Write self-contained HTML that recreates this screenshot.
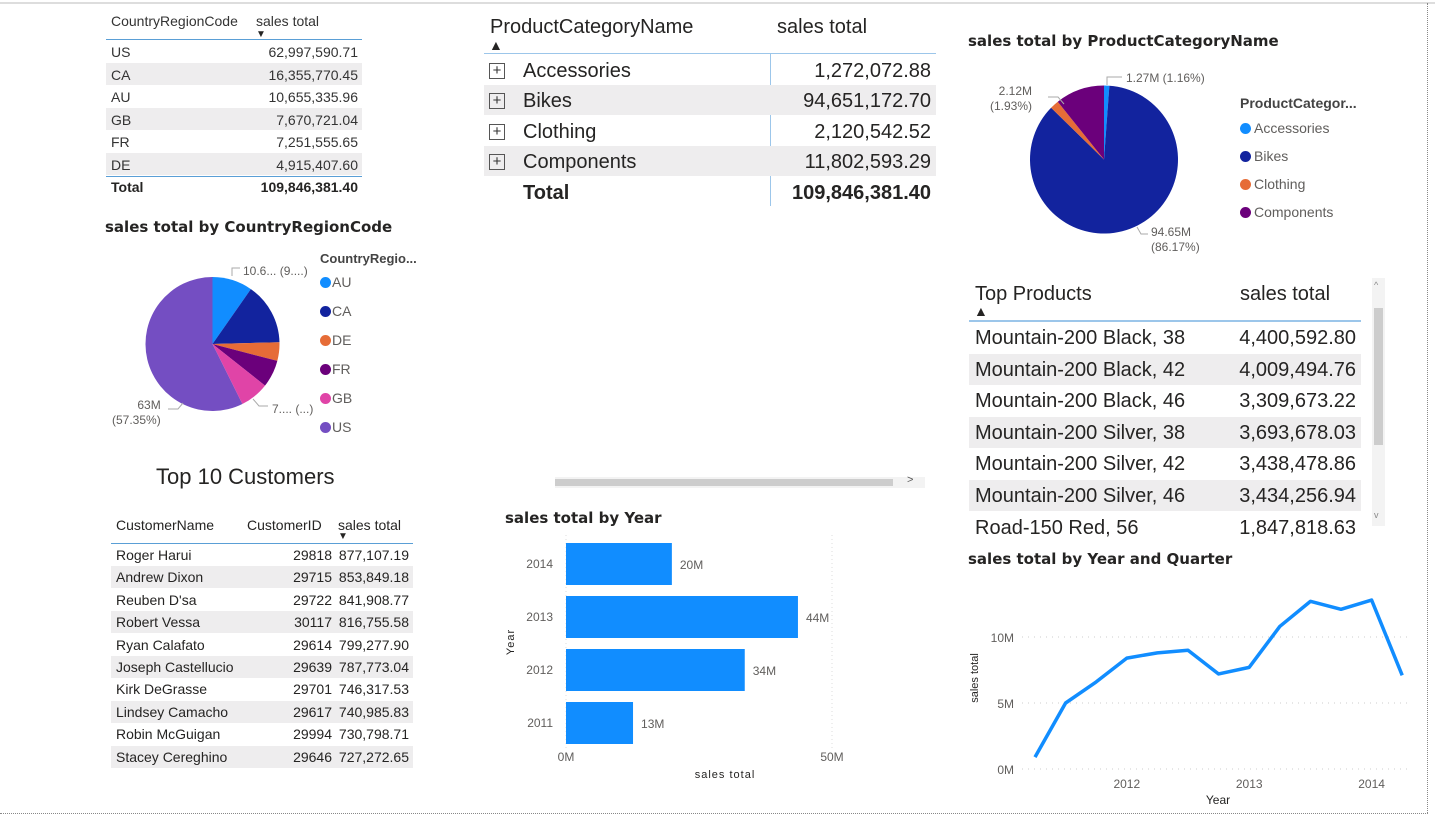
<!DOCTYPE html>
<html><head><meta charset="utf-8">
<style>
body{margin:0;width:1435px;height:818px;overflow:hidden;background:#fff;font-family:"Liberation Sans","DejaVu Sans",sans-serif;color:#252423;position:relative}
.a{position:absolute;white-space:nowrap}
.r{text-align:right}
.t{font-family:"DejaVu Sans","Liberation Sans",sans-serif;font-weight:bold;font-size:15px;color:#252423}
.sm{font-size:12px;color:#605e5c}
.dot{display:inline-block;width:11px;height:11px;border-radius:50%;vertical-align:-1px;margin-right:3px}
svg{position:absolute;left:0;top:0}
</style></head><body>
<div class="a" style="left:0;top:2px;width:1435px;height:2px;background:#ddd"></div>
<div class="a" style="left:1427px;top:3px;width:0;height:810px;border-left:1px dotted #888"></div>
<div class="a" style="left:0;top:813px;width:1428px;height:0;border-top:1px dotted #888"></div>

<div class="a" style="left:106px;top:10px;width:256px;height:190px;font-size:14px">
  <div class="a" style="left:5px;top:3px;color:#333">CountryRegionCode</div>
  <div class="a" style="left:150px;top:3px;color:#333">sales total</div>
  <div class="a" style="left:150px;top:19px;font-size:10px">▼</div>
  <div class="a" style="left:0;top:29px;width:256px;height:1px;background:#5a9fd6"></div>
  <div id="ctab"></div>
  <div class="a" style="left:0;top:166px;width:256px;height:1px;background:#5a9fd6"></div>
  <div class="a" style="left:5px;top:169px;font-weight:bold">Total</div>
  <div class="a r" style="right:4px;top:169px;font-weight:bold">109,846,381.40</div>
</div>

<div class="a" style="left:484px;top:10px;width:452px;height:200px;font-size:20px">
  <div class="a" style="left:6px;top:6px">ProductCategoryName</div>
  <div class="a" style="left:293px;top:6px">sales total</div>
  <div class="a" style="left:5px;top:27px;font-size:14px">▲</div>
  <div class="a" style="left:0;top:43px;width:452px;height:1px;background:#9cc6ea"></div>
  <div class="a" style="left:286px;top:44px;width:1px;height:152px;background:#9cc6ea"></div>
  <div id="ptab"></div>
  <div class="a" style="left:39px;top:172px;font-weight:bold">Total</div>
  <div class="a r" style="right:5px;top:172px;font-weight:bold">109,846,381.40</div>
</div>

<div class="a t" style="left:968px;top:32px">sales total by ProductCategoryName</div>
<div class="a" style="left:1240px;top:95px;font-size:14px;color:#605e5c">
  <div style="font-weight:bold;color:#444;height:25px">ProductCategor...</div>
  <div style="height:28px"><span class="dot" style="background:#118DFF"></span>Accessories</div>
  <div style="height:28px"><span class="dot" style="background:#12239E"></span>Bikes</div>
  <div style="height:28px"><span class="dot" style="background:#E66C37"></span>Clothing</div>
  <div style="height:28px"><span class="dot" style="background:#6B007B"></span>Components</div>
</div>
<div class="a sm" style="left:1126px;top:71px">1.27M (1.16%)</div>
<div class="a sm r" style="left:990px;top:84px;line-height:15px">2.12M<br>(1.93%)</div>
<div class="a sm" style="left:1151px;top:225px;line-height:15px">94.65M<br>(86.17%)</div>

<div class="a t" style="left:105px;top:218px">sales total by CountryRegionCode</div>
<div class="a" style="left:320px;top:251px;font-size:14px;color:#605e5c">
  <div style="font-weight:bold;color:#444;font-size:13px;height:23px">CountryRegio...</div>
  <div style="height:29px"><span class="dot" style="background:#118DFF;margin-right:1px"></span>AU</div>
  <div style="height:29px"><span class="dot" style="background:#12239E;margin-right:1px"></span>CA</div>
  <div style="height:29px"><span class="dot" style="background:#E66C37;margin-right:1px"></span>DE</div>
  <div style="height:29px"><span class="dot" style="background:#6B007B;margin-right:1px"></span>FR</div>
  <div style="height:29px"><span class="dot" style="background:#E044A7;margin-right:1px"></span>GB</div>
  <div style="height:29px"><span class="dot" style="background:#744EC2;margin-right:1px"></span>US</div>
</div>
<div class="a sm" style="left:243px;top:264px">10.6... (9....)</div>
<div class="a sm" style="left:272px;top:402px">7.... (...)</div>
<div class="a sm" style="left:112px;top:398px;line-height:15px;text-align:right">&nbsp;&nbsp;&nbsp;&nbsp;&nbsp;&nbsp;&nbsp;63M<br>(57.35%)</div>

<div class="a" style="left:969px;top:278px;width:392px;height:265px;font-size:20px">
  <div class="a" style="left:6px;top:5px">Top Products</div>
  <div class="a" style="left:271px;top:5px">sales total</div>
  <div class="a" style="left:5px;top:25px;font-size:14px">▲</div>
  <div class="a" style="left:0;top:42px;width:392px;height:2px;background:#9cc6ea"></div>
  <div id="tptab"></div>
</div>
<div class="a" style="left:1372px;top:278px;width:13px;height:248px;background:#f3f3f3">
  <div style="position:absolute;left:2px;top:30px;width:9px;height:137px;background:#cdcdcd"></div>
  <div style="position:absolute;left:2px;top:2px;font-size:9px;color:#888">^</div>
  <div style="position:absolute;left:2px;top:232px;font-size:9px;color:#888">v</div>
</div>

<div class="a" style="left:555px;top:477px;width:370px;height:11px;background:#f3f3f3">
  <div style="position:absolute;left:0;top:2px;width:338px;height:7px;background:#cdcdcd"></div>
  <div style="position:absolute;left:352px;top:-3px;font-size:11px;color:#555">&gt;</div>
</div>

<div class="a" style="left:156px;top:464px;font-size:22px;color:#252423">Top 10 Customers</div>
<div class="a" style="left:111px;top:514px;width:302px;height:256px;font-size:14px">
  <div class="a" style="left:5px;top:3px">CustomerName</div>
  <div class="a" style="left:136px;top:3px">CustomerID</div>
  <div class="a" style="left:227px;top:3px">sales total</div>
  <div class="a" style="left:227px;top:17px;font-size:10px">▼</div>
  <div class="a" style="left:0;top:29px;width:302px;height:1px;background:#5a9fd6"></div>
  <div id="cutab"></div>
</div>

<div class="a t" style="left:505px;top:509px">sales total by Year</div>
<div class="a t" style="left:968px;top:550px">sales total by Year and Quarter</div>

<svg id="chart" width="1435" height="818"></svg>

<script>
const countryCodes=["US","CA","AU","GB","FR","DE"];
const countrySalesText=["62,997,590.71","16,355,770.45","10,655,335.96","7,670,721.04","7,251,555.65","4,915,407.60"];
const catNames=["Accessories","Bikes","Clothing","Components"];
const catSalesText=["1,272,072.88","94,651,172.70","2,120,542.52","11,802,593.29"];
const catValues=[1.272,94.651,2.121,11.803];
const catColors=["#118DFF","#12239E","#E66C37","#6B007B"];
const pieCountries=["AU","CA","DE","FR","GB","US"];
const pieCountryValues=[10.655,16.356,4.915,7.252,7.671,62.998];
const pieCountryColors=["#118DFF","#12239E","#E66C37","#6B007B","#E044A7","#744EC2"];
const prodNames=["Mountain-200 Black, 38","Mountain-200 Black, 42","Mountain-200 Black, 46","Mountain-200 Silver, 38","Mountain-200 Silver, 42","Mountain-200 Silver, 46","Road-150 Red, 56"];
const prodSales=["4,400,592.80","4,009,494.76","3,309,673.22","3,693,678.03","3,438,478.86","3,434,256.94","1,847,818.63"];
const custNames=["Roger Harui","Andrew Dixon","Reuben D'sa","Robert Vessa","Ryan Calafato","Joseph Castellucio","Kirk DeGrasse","Lindsey Camacho","Robin McGuigan","Stacey Cereghino"];
const custIds=["29818","29715","29722","30117","29614","29639","29701","29617","29994","29646"];
const custSales=["877,107.19","853,849.18","841,908.77","816,755.58","799,277.90","787,773.04","746,317.53","740,985.83","730,798.71","727,272.65"];
const years=["2014","2013","2012","2011"];
const yearValues=[19.9,43.6,33.6,12.6];
const yearLabels=["20M","44M","34M","13M"];
const barTicks=[0,50];
const quarterValues=[0.9,5.0,6.6,8.4,8.8,9.0,7.2,7.7,10.8,12.7,12.1,12.8,7.1];
const lineYTicks=[0,5,10];
const lineXLabels=["2012","2013","2014"];
const lineXLabelIdx=[3,7,11];

function mk(p,tag,html,style){const e=document.createElement(tag);e.className='a';e.style.cssText=style;if(html!=null)e.textContent=html;p.appendChild(e);return e;}

let ct=document.getElementById('ctab');
countryCodes.forEach((c,i)=>{const y=30+i*22.6;
 if(i%2){const b=mk(ct,'div',null,`left:0;top:${y}px;width:256px;height:22px;background:#eeedee`);}
 const a=mk(ct,'div',c,`left:5px;top:${y+4}px;color:#333`);
 const v=mk(ct,'div',countrySalesText[i],`right:4px;top:${y+4}px;color:#333`);
});
let pt=document.getElementById('ptab');
catNames.forEach((c,i)=>{const y=45+i*30.3;
 if(i%2){const b=mk(pt,'div',null,`left:0;top:${y}px;width:452px;height:30px;background:#eeedee`);}
 const ex=mk(pt,'div','+',`left:5px;top:${y+8}px;width:14px;height:14px;border:1px solid #555;font-size:15px;line-height:13px;text-align:center;color:#333`);
 const a=mk(pt,'div',c,`left:39px;top:${y+5}px`);
 const v=mk(pt,'div',catSalesText[i],`right:5px;top:${y+5}px`);
});
let tp=document.getElementById('tptab');
prodNames.forEach((c,i)=>{const y=44+i*31.6;
 if(i%2){const b=mk(tp,'div',null,`left:0;top:${y}px;width:392px;height:31px;background:#eeedee`);}
 const a=mk(tp,'div',c,`left:6px;top:${y+5}px`);
 const v=mk(tp,'div',prodSales[i],`right:5px;top:${y+5}px`);
});
let cu=document.getElementById('cutab');
custNames.forEach((c,i)=>{const y=30+i*22.4;
 if(i%2){const b=mk(cu,'div',null,`left:0;top:${y}px;width:302px;height:22px;background:#eeedee`);}
 const a=mk(cu,'div',c,`left:5px;top:${y+3}px`);
 const d=mk(cu,'div',custIds[i],`right:81px;top:${y+3}px`);
 const v=mk(cu,'div',custSales[i],`right:4px;top:${y+3}px`);
});

const svg=document.getElementById('chart');const NS='http://www.w3.org/2000/svg';
function s(tag,attrs,txt){const e=document.createElementNS(NS,tag);for(const k in attrs)e.setAttribute(k,attrs[k]);if(txt!=null)e.textContent=txt;svg.appendChild(e);return e;}
function pie(cx,cy,r,vals,cols,name){const tot=vals.reduce((a,b)=>a+b,0);let a0=-Math.PI/2;
 vals.forEach((v,i)=>{const a1=a0+v/tot*2*Math.PI;const large=(a1-a0)>Math.PI?1:0;
  const d=`M${cx},${cy}L${cx+r*Math.cos(a0)},${cy+r*Math.sin(a0)}A${r},${r} 0 ${large} 1 ${cx+r*Math.cos(a1)},${cy+r*Math.sin(a1)}Z`;
  const p=s('path',{d:d,fill:cols[i]});a0=a1;});}
pie(212.5,344,67,pieCountryValues,pieCountryColors,'country-pie');
pie(1104,159.5,74,catValues,catColors,'category-pie');
["M1107,85 L1107,77 L1122,77","M1048,97 L1058,97 L1064,104","M1137,227 L1141,234 L1148,234","M232,276 L232,268 L240,268","M253,399 L259,406 L268,406","M168,409 L178,409 L183,403"].forEach(d=>{const l=s('path',{d:d,fill:'none',stroke:'#aaa','stroke-width':1});});

const bx=v=>566+v*5.32;
barTicks.forEach(t=>{const g=s('line',{x1:bx(t),x2:bx(t),y1:535,y2:748,stroke:'#ddd','stroke-dasharray':'1,3'});
 const tl=s('text',{x:bx(t),y:761,'font-size':12,fill:'#605e5c','text-anchor':'middle'},t+'M');});
years.forEach((yr,i)=>{const y0=543+i*53;
 const r=s('rect',{x:bx(0),y:y0,width:bx(yearValues[i])-bx(0),height:42,fill:'#118DFF'});
 const t=s('text',{x:553,y:y0+25,'font-size':12,fill:'#605e5c','text-anchor':'end'},yr);
 const v=s('text',{x:bx(yearValues[i])+8,y:y0+26,'font-size':12,fill:'#605e5c'},yearLabels[i]);});
let bt=s('text',{x:725,y:778,'font-size':11,fill:'#252423','text-anchor':'middle','letter-spacing':'1'},'sales total');
let byt=s('text',{x:0,y:0,'font-size':11,fill:'#252423','text-anchor':'middle','letter-spacing':'1',transform:'translate(514,642) rotate(-90)'},'Year');

const lx=i=>1035+i*30.6, ly=v=>769-v*13.2;
lineYTicks.forEach(t=>{const g=s('line',{x1:1022,x2:1412,y1:ly(t),y2:ly(t),stroke:'#ccc','stroke-dasharray':'1,5'});
 const tl=s('text',{x:1014,y:ly(t)+5,'font-size':12,fill:'#605e5c','text-anchor':'end'},t+'M');});
lineXLabels.forEach((l,i)=>{const t=s('text',{x:lx(lineXLabelIdx[i]),y:788,'font-size':12,fill:'#605e5c','text-anchor':'middle'},l);});
const pl=s('polyline',{points:quarterValues.map((v,i)=>lx(i)+','+ly(v)).join(' '),fill:'none',stroke:'#118DFF','stroke-width':3.5,'stroke-linejoin':'round'});
let lt=s('text',{x:1218,y:804,'font-size':12,fill:'#252423','text-anchor':'middle'},'Year');
let lyt=s('text',{x:0,y:0,'font-size':11,fill:'#252423','text-anchor':'middle',transform:'translate(978,678) rotate(-90)'},'sales total');
</script>
</body></html>
